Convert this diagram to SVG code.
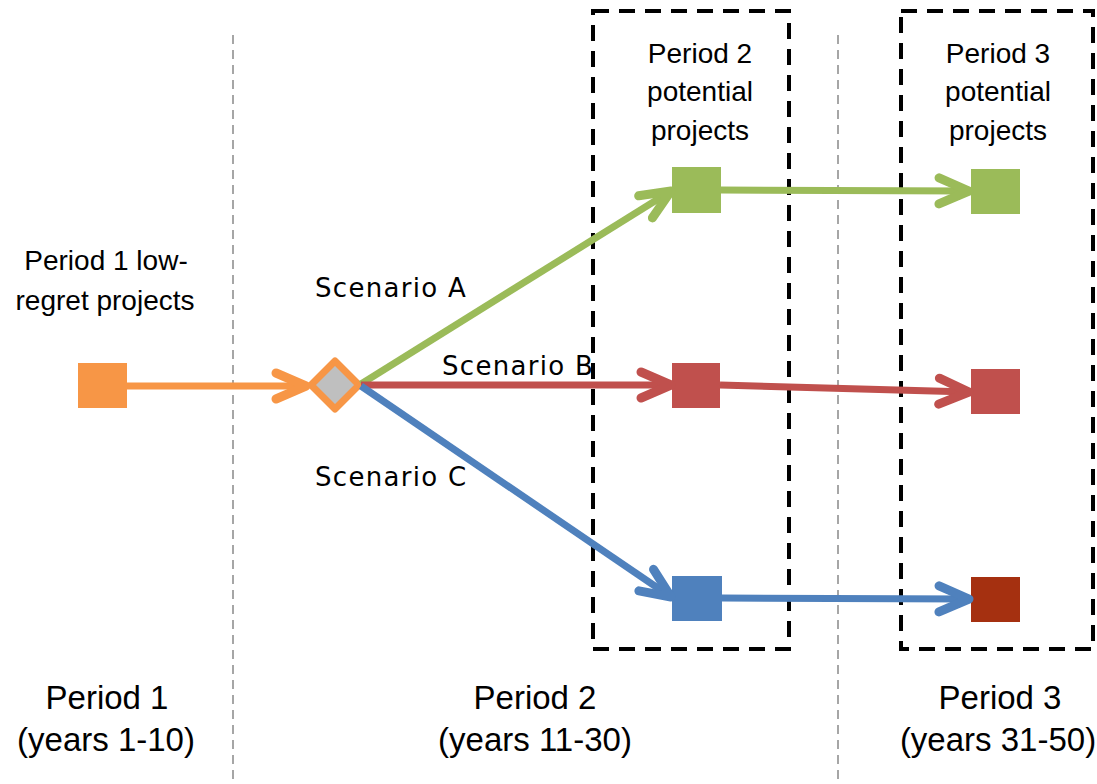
<svg xmlns="http://www.w3.org/2000/svg" width="1097" height="784" viewBox="0 0 1097 784">
<style>
.t{font-family:"Liberation Sans",Arial,sans-serif;fill:#000;text-anchor:middle}
.top{font-size:28px}
.bot{font-size:33px}
.sc{font-family:"DejaVu Sans",sans-serif;font-size:26px;letter-spacing:1.3px;fill:#000}
.grid{stroke:#A6A6A6;stroke-width:2;stroke-dasharray:9,6;fill:none}
.box{stroke:#000;stroke-width:4;stroke-dasharray:16,10;fill:none}
.c{fill:none;stroke-width:7}
</style>
<defs>
<marker id="aO" markerUnits="userSpaceOnUse" markerWidth="50" markerHeight="40" refX="40" refY="20" orient="auto" overflow="visible"><path d="M10,7 L40,20 L10,33" fill="none" stroke="#F79646" stroke-width="9" stroke-linecap="round" stroke-linejoin="round"/></marker>
<marker id="aG" markerUnits="userSpaceOnUse" markerWidth="50" markerHeight="40" refX="40" refY="20" orient="auto" overflow="visible"><path d="M10,7 L40,20 L10,33" fill="none" stroke="#9BBB59" stroke-width="9" stroke-linecap="round" stroke-linejoin="round"/></marker>
<marker id="aR" markerUnits="userSpaceOnUse" markerWidth="50" markerHeight="40" refX="40" refY="20" orient="auto" overflow="visible"><path d="M10,7 L40,20 L10,33" fill="none" stroke="#C0504D" stroke-width="9" stroke-linecap="round" stroke-linejoin="round"/></marker>
<marker id="aB" markerUnits="userSpaceOnUse" markerWidth="50" markerHeight="40" refX="40" refY="20" orient="auto" overflow="visible"><path d="M10,7 L40,20 L10,33" fill="none" stroke="#4F81BD" stroke-width="9" stroke-linecap="round" stroke-linejoin="round"/></marker>
</defs>
<rect width="1097" height="784" fill="#fff"/>
<g id="dividers">
<line class="grid" x1="233" y1="35" x2="233" y2="784"/>
<line class="grid" x1="838" y1="35" x2="838" y2="784"/>
</g>
<g id="period2-box"><rect class="box" x="593" y="11" width="196" height="638"/>
<text class="t top" x="700" y="63">Period 2</text><text class="t top" x="700" y="101">potential</text><text class="t top" x="700" y="140">projects</text></g>
<g id="period3-box"><rect class="box" x="901" y="11" width="192" height="638"/>
<text class="t top" x="998" y="63">Period 3</text><text class="t top" x="998" y="101">potential</text><text class="t top" x="998" y="140">projects</text></g>
<g id="p1-label"><text class="t top" x="106" y="270">Period 1 low-</text><text class="t top" x="105" y="310">regret projects</text></g>
<g id="p1-node"><rect x="78" y="363" width="49" height="45" fill="#F79646"/></g>
<g id="decision"><path d="M335,361 L359,385 L335,409 L311,385 Z" fill="#BFBFBF" stroke="#F79646" stroke-width="7" stroke-linejoin="round"/></g>
<g id="p2-green"><rect x="672" y="167" width="49" height="46" fill="#9BBB59"/></g>
<g id="p2-red"><rect x="672" y="363" width="48" height="45" fill="#C0504D"/></g>
<g id="p2-blue"><rect x="672" y="576" width="50" height="45" fill="#4F81BD"/></g>
<g id="p3-green"><rect x="971" y="169" width="49" height="45" fill="#9BBB59"/></g>
<g id="p3-red"><rect x="971" y="369" width="49" height="45" fill="#C0504D"/></g>
<g id="p3-darkred"><rect x="971" y="577" width="49" height="45" fill="#A53010"/></g>
<g id="connectors">
<line class="c" stroke="#F79646" x1="120" y1="386" x2="306" y2="386" marker-end="url(#aO)"/>
<line class="c" stroke="#9BBB59" x1="361" y1="384" x2="671" y2="191" marker-end="url(#aG)"/>
<line class="c" stroke="#C0504D" x1="361" y1="385" x2="671" y2="385" marker-end="url(#aR)"/>
<line class="c" stroke="#4F81BD" x1="361" y1="386" x2="671" y2="597" marker-end="url(#aB)"/>
<line class="c" stroke="#9BBB59" x1="721" y1="190" x2="969" y2="191" marker-end="url(#aG)"/>
<line class="c" stroke="#C0504D" x1="720" y1="385" x2="969" y2="392" marker-end="url(#aR)"/>
<line class="c" stroke="#4F81BD" x1="722" y1="598" x2="969" y2="599" marker-end="url(#aB)"/>
</g>
<g id="scenario-labels">
<text class="sc" x="315" y="297">Scenario A</text>
<text class="sc" x="442" y="375">Scenario B</text>
<text class="sc" x="315" y="486">Scenario C</text>
</g>
<g id="period-labels">
<text class="t bot" x="107" y="709">Period 1</text><text class="t bot" x="106" y="751">(years 1-10)</text>
<text class="t bot" x="535" y="709">Period 2</text><text class="t bot" x="535" y="751">(years 11-30)</text>
<text class="t bot" x="1000" y="709">Period 3</text><text class="t bot" x="998" y="751">(years 31-50)</text>
</g>
</svg>
